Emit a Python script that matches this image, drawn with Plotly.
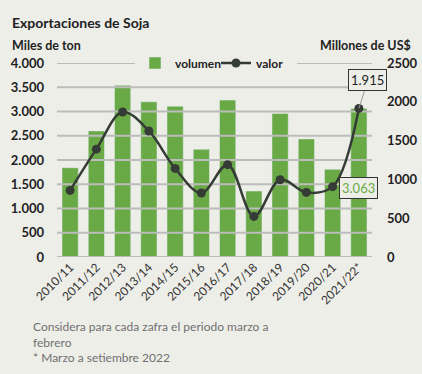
import plotly.graph_objects as go

categories = ["2010/11", "2011/12", "2012/13", "2013/14", "2014/15", "2015/16",
              "2016/17", "2017/18", "2018/19", "2019/20", "2020/21", "2021/22*"]
volumen = [1840, 2600, 3540, 3200, 3110, 2220, 3235, 1360, 2960, 2435, 1810, 3063]
valor = [858, 1390, 1868, 1624, 1142, 825, 1190, 523, 996, 832, 906, 1915]
vol_ticks = [0, 500, 1000, 1500, 2000, 2500, 3000, 3500, 4000]
vol_ticktext = ["0", "500", "1.000", "1.500", "2.000", "2.500", "3.000", "3.500", "4.000"]
val_ticks = [0, 500, 1000, 1500, 2000, 2500]
val_ticktext = ["0", "500", "1000", "1500", "2000", "2500"]

BG = "#eeeee9"
GREEN = "#6aaa46"
LINE = "#353b35"
GRID = "#bcbcbc"
FONT = "Lato"

W, H = 422, 374
L, R, T, B = 57, 50, 63, 117
PW, PH = W - L - R, H - T - B


def px(x):
    return (x - L) / PW


def py(y):
    return (H - B - y) / PH


xpos = list(range(len(categories)))
xmin, xmax = -0.5, len(categories) - 0.5

fig = go.Figure()
# horizontal gridlines at the left-axis tick values (drawn beneath the bars)
for v in vol_ticks:
    fig.add_trace(go.Scatter(x=[xmin, xmax], y=[v, v], mode="lines", yaxis="y",
                             line=dict(color=GRID, width=2), showlegend=False,
                             hoverinfo="skip"))
fig.add_trace(go.Bar(x=xpos, y=volumen, name="<b>volumen</b>", marker_color=GREEN,
                     yaxis="y"))
fig.add_trace(go.Scatter(x=xpos, y=valor, name="<b>valor</b>", yaxis="y2",
                         mode="lines+markers",
                         line=dict(color=LINE, width=2.5, shape="spline", smoothing=1.0),
                         marker=dict(color=LINE, size=9)))

fig.add_annotation(x=xpos[-1], y=valor[-1], xref="x", yref="y2",
                   text="1.915", showarrow=True, arrowhead=0, arrowcolor="#999999",
                   arrowwidth=1, ax=9, ay=-28, bordercolor="#333333", borderwidth=1,
                   borderpad=2, bgcolor=BG, font=dict(family=FONT, size=13, color="#222222"))
fig.add_annotation(x=px(358), y=py(188), xref="paper", yref="paper", text="3.063",
                   showarrow=False, bordercolor="#333333", borderwidth=1, borderpad=2,
                   xanchor="center", yanchor="middle",
                   bgcolor=BG, font=dict(family=FONT, size=13, color="#6aaa46"))
fig.add_annotation(x=px(10), y=py(22), xref="paper", yref="paper",
                   text="<b>Exportaciones de Soja</b>", showarrow=False,
                   xanchor="left", yanchor="middle",
                   font=dict(family=FONT, size=14, color="#222222"))
fig.add_annotation(x=px(10), y=py(45), xref="paper", yref="paper",
                   text="<b>Miles de ton</b>", showarrow=False, xanchor="left", yanchor="middle",
                   font=dict(family=FONT, size=12.5, color="#222222"))
fig.add_annotation(x=px(413), y=py(45), xref="paper", yref="paper",
                   text="<b>Millones de US$</b>", showarrow=False, xanchor="right",
                   yanchor="middle", font=dict(family=FONT, size=12.5, color="#222222"))
fig.add_annotation(x=px(31), y=py(317), xref="paper", yref="paper",
                   text="Considera para cada zafra el periodo marzo a<br>febrero<br>* Marzo a setiembre 2022",
                   showarrow=False, xanchor="left", yanchor="top", align="left",
                   font=dict(family=FONT, size=12, color="#707070"))

fig.update_layout(
    width=W, height=H,
    paper_bgcolor=BG, plot_bgcolor=BG,
    margin=dict(l=L, r=R, t=T, b=B, autoexpand=False),
    bargap=0.38,
    font=dict(family=FONT, size=12, color="#222222"),
    showlegend=True,
    legend=dict(orientation="h", x=px(135), xanchor="left", y=1.0, yanchor="middle",
                bgcolor=BG, font=dict(family=FONT, size=12, color="#222222"),
                itemwidth=30, entrywidth=36, entrywidthmode="pixels", tracegroupgap=0),
    xaxis=dict(range=[xmin, xmax], tickmode="array", tickvals=xpos, ticktext=categories,
               showgrid=False, showline=False, zeroline=False,
               tickangle=-45, tickfont=dict(family=FONT, size=12, color="#333333"),
               ticks="", automargin=False),
    yaxis=dict(range=[0, 4000], tickmode="array", tickvals=vol_ticks,
               ticktext=["<b>%s</b>" % t for t in vol_ticktext],
               showgrid=False, zeroline=False, automargin=False,
               ticks="", ticklabelstandoff=12,
               tickfont=dict(family=FONT, size=13, color="#222222")),
    yaxis2=dict(range=[0, 2500], tickmode="array", tickvals=val_ticks,
                ticktext=["<b>%s</b>" % t for t in val_ticktext],
                overlaying="y", side="right", showgrid=False, zeroline=False,
                automargin=False, ticks="", ticklabelstandoff=14,
                tickfont=dict(family=FONT, size=13, color="#222222")),
)

fig.write_html("out.html", config={"displayModeBar": False},
               post_script="document.body.style.margin='0';document.body.style.padding='0';")
